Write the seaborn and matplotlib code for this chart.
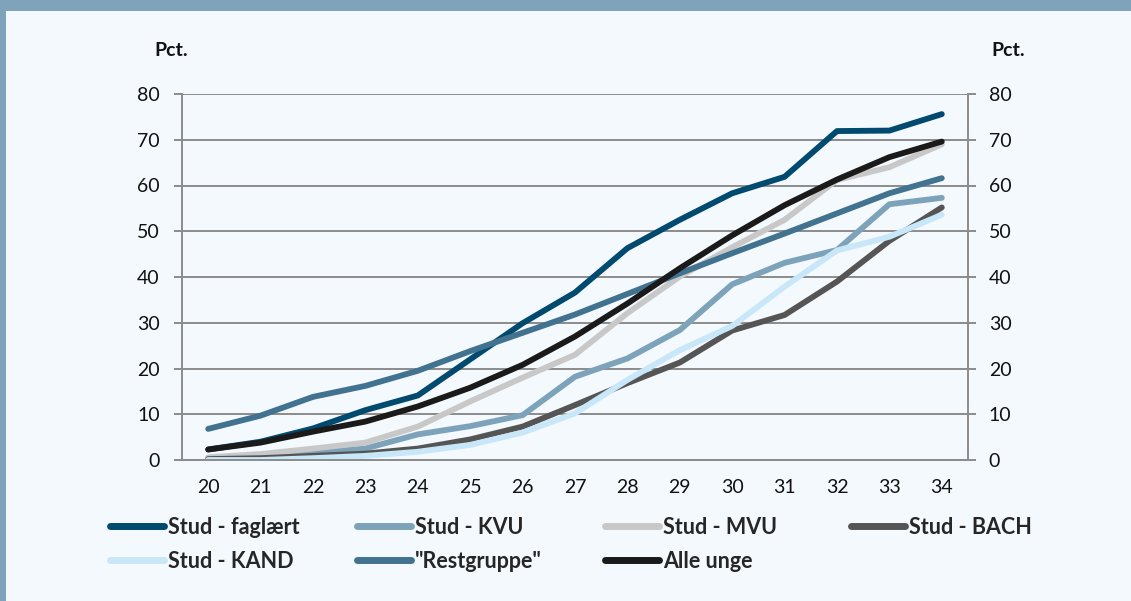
import pandas as pd
import matplotlib.pyplot as plt
import seaborn as sns
from matplotlib.patches import Rectangle

# ---------------------------------------------------------------
# Data
# ---------------------------------------------------------------
ages = [20, 21, 22, 23, 24, 25, 26, 27, 28, 29, 30, 31, 32, 33, 34]

stud_faglaert = [2.3, 4.0, 6.9, 10.9, 14.1, 22.0, 29.9, 36.6, 46.3, 52.5, 58.3, 61.9, 71.9, 72.0, 75.6]
stud_kvu = [0.4, 0.9, 1.6, 2.5, 5.6, 7.4, 9.8, 18.2, 22.2, 28.4, 38.4, 43.1, 45.9, 55.9, 57.3]
stud_mvu = [0.6, 1.3, 2.5, 3.8, 7.3, 12.8, 18.0, 23.0, 32.1, 40.1, 46.5, 52.5, 61.2, 64.0, 69.0]
stud_bach = [0.2, 0.4, 0.9, 1.4, 2.5, 4.5, 7.3, 12.0, 16.8, 21.3, 28.3, 31.7, 39.0, 47.9, 55.2]
stud_kand = [0.0, 0.0, 0.4, 0.9, 1.8, 3.3, 6.0, 10.2, 17.5, 24.0, 29.3, 37.9, 45.8, 48.8, 53.6]
restgruppe = [6.8, 9.7, 13.8, 16.2, 19.5, 23.8, 27.8, 31.8, 36.3, 40.8, 45.2, 49.5, 53.9, 58.3, 61.6]
alle_unge = [2.3, 3.8, 6.2, 8.4, 11.7, 15.8, 20.8, 27.0, 34.2, 41.9, 49.1, 55.7, 61.3, 66.2, 69.6]

series = {
    'Stud - faglært': stud_faglaert,
    'Stud - KVU': stud_kvu,
    'Stud - MVU': stud_mvu,
    'Stud - BACH': stud_bach,
    'Stud - KAND': stud_kand,
    '"Restgruppe"': restgruppe,
    'Alle unge': alle_unge,
}
colors = {
    'Stud - faglært': '#00496F',
    'Stud - KVU': '#7DA3BA',
    'Stud - MVU': '#C8C8C8',
    'Stud - BACH': '#555555',
    'Stud - KAND': '#C8E7F8',
    '"Restgruppe"': '#41728F',
    'Alle unge': '#1A1A1A',
}

rows = []
for name, vals in series.items():
    for i, (a, v) in enumerate(zip(ages, vals)):
        rows.append({'pos': i, 'age': a, 'serie': name, 'value': v})
df = pd.DataFrame(rows)

# ---------------------------------------------------------------
# Figure
# ---------------------------------------------------------------
bg = '#F4F9FE'
frame = '#7FA3BA'
grid_c = '#8C8C8C'

sns.set_theme(style="white")
plt.rcParams['font.family'] = ['Lato', 'DejaVu Sans']

fig = plt.figure(figsize=(11.31, 6.01), dpi=100, facecolor=bg)
ax = fig.add_axes([182 / 1131, 141 / 601, 786 / 1131, 366 / 601])
ax.set_facecolor(bg)

sns.lineplot(data=df, x='pos', y='value', hue='serie', palette=colors,
             hue_order=list(series.keys()), linewidth=4.2, ax=ax,
             solid_capstyle='round', sort=False)

handles, labels = ax.get_legend_handles_labels()
ax.get_legend().remove()

ax.set_xlim(-0.5, len(ages) - 0.5)
ax.set_ylim(0, 80)
ax.set_yticks(range(0, 81, 10))
ax.set_xticks(range(len(ages)))
ax.set_xticklabels([str(a) for a in ages], fontsize=14)
ax.set_xticks([i - 0.5 for i in range(len(ages) + 1)], minor=True)
ax.tick_params(axis='x', which='major', length=0, pad=14, colors='#111111')
ax.tick_params(axis='x', which='minor', length=6, width=1.4, color=grid_c, direction='out')
ax.tick_params(axis='y', length=6, width=1.4, color=grid_c, pad=10, labelsize=14,
               labelcolor='#111111', direction='out')
ax.grid(axis='y', color=grid_c, linewidth=1.4)
ax.set_axisbelow(True)
ax.set_xlabel("")
ax.set_ylabel("")

for s in ['left', 'right', 'bottom']:
    ax.spines[s].set_color(grid_c)
    ax.spines[s].set_linewidth(1.4)
ax.spines['top'].set_visible(False)

ax2 = ax.twinx()
ax2.set_ylim(0, 80)
ax2.set_yticks(range(0, 81, 10))
ax2.tick_params(axis='y', length=6, width=1.4, color=grid_c, pad=9, labelsize=14,
                labelcolor='#111111', direction='out')
for s in ax2.spines.values():
    s.set_visible(False)

fig.text(171 / 1131, 1 - 51 / 601, "Pct.", fontsize=14, fontweight='bold',
         ha='center', va='center', color='#111111')
fig.text(1008 / 1131, 1 - 51 / 601, "Pct.", fontsize=14, fontweight='bold',
         ha='center', va='center', color='#111111')

# Legend: four columns, placed like the original
by_label = dict(zip(labels, handles))
columns = [['Stud - faglært', 'Stud - KAND'],
           ['Stud - KVU', '"Restgruppe"'],
           ['Stud - MVU', 'Alle unge'],
           ['Stud - BACH']]
col_x = [110, 357, 605, 851]
for names, x0 in zip(columns, col_x):
    leg = fig.legend([by_label[n] for n in names], names,
                     loc='upper left', bbox_to_anchor=(x0 / 1131, 1 - 517 / 601),
                     frameon=False, handlelength=2.5, handletextpad=0.2,
                     labelspacing=0.6, borderpad=0, borderaxespad=0,
                     prop={'weight': 'bold', 'size': 15.5})
    for line in leg.get_lines():
        line.set_linewidth(5)
        line.set_solid_capstyle('round')

# Frame: top band and left border
fig.patches.append(Rectangle((0, 1 - 11 / 601), 1, 11 / 601, transform=fig.transFigure,
                             facecolor=frame, edgecolor='none', zorder=-1))
fig.patches.append(Rectangle((0, 0), 6 / 1131, 1, transform=fig.transFigure,
                             facecolor=frame, edgecolor='none', zorder=-1))

fig.savefig("out.png", dpi=100, facecolor=bg)
